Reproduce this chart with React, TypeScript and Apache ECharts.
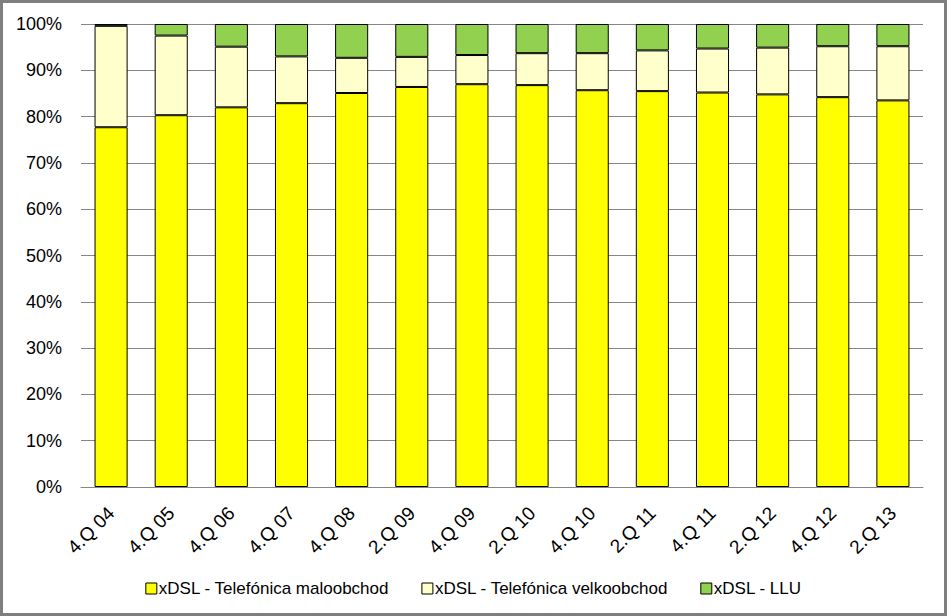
import React, { useEffect, useRef } from "react";
import * as echarts from "echarts";

const categories = ["4.Q 04", "4.Q 05", "4.Q 06", "4.Q 07", "4.Q 08", "2.Q 09", "4.Q 09", "2.Q 10", "4.Q 10", "2.Q 11", "4.Q 11", "2.Q 12", "4.Q 12", "2.Q 13"];
const retail = [77.7, 80.3, 82.0, 82.9, 85.1, 86.4, 87.0, 86.8, 85.7, 85.5, 85.2, 84.8, 84.2, 83.5];
const cumulativeWholesaleTop = [99.6, 97.5, 95.1, 93.0, 92.7, 92.9, 93.3, 93.7, 93.7, 94.3, 94.7, 94.9, 95.2, 95.2];
const wholesale = cumulativeWholesaleTop.map((t, i) => +(t - retail[i]).toFixed(1));
const llu = cumulativeWholesaleTop.map((t) => +(100 - t).toFixed(1));
const seriesNames = ["xDSL - Telefónica maloobchod", "xDSL - Telefónica velkoobchod", "xDSL - LLU"];
const yTicks = [0, 10, 20, 30, 40, 50, 60, 70, 80, 90, 100];

export default function App() {
  const ref = useRef<HTMLDivElement>(null);
  useEffect(() => {
    const chart = echarts.init(ref.current!, undefined, { renderer: "svg" });
    const font = "Liberation Sans, Arial, sans-serif";
    const mk = (name: string, data: number[], color: string) => ({
      name,
      type: "bar",
      stack: "s",
      data,
      barWidth: "55%",
      itemStyle: { color, borderColor: "#000", borderWidth: 1 },
    });
    chart.setOption({
      animation: false,
      backgroundColor: "#fff",
      grid: { left: 81, right: 24, top: 24, bottom: 129, containLabel: false },
      legend: {
        top: 575,
        left: "center",
        itemWidth: 11,
        itemHeight: 11,
        itemGap: 32,
        icon: "rect",
        textStyle: { fontFamily: font, fontSize: 17, color: "#000", padding: [0, 0, 0, -3] },
        itemStyle: { borderColor: "#000", borderWidth: 1 },
        data: seriesNames,
      },
      xAxis: {
        type: "category",
        data: categories,
        axisLine: { lineStyle: { color: "#868686", width: 1 } },
        axisTick: { show: false },
        axisLabel: { rotate: 45, fontFamily: font, fontSize: 19, color: "#000", margin: 23, interval: 0 },
      },
      yAxis: {
        type: "value",
        min: 0,
        max: 100,
        interval: 10,
        axisLine: { show: false },
        axisTick: { show: false },
        splitLine: { lineStyle: { color: "#868686", width: 1 } },
        axisLabel: {
          fontFamily: font,
          fontSize: 18,
          color: "#000",
          margin: 19,
          formatter: (v: number) => (yTicks.includes(v) ? v + "%" : ""),
        },
      },
      series: [
        mk(seriesNames[0], retail, "#FFFF00"),
        mk(seriesNames[1], wholesale, "#FFFFCC"),
        mk(seriesNames[2], llu, "#92D050"),
      ],
    });
    return () => chart.dispose();
  }, []);
  return (
    <div style={{ position: "fixed", left: 0, top: 0, width: 947, height: 616, background: "#fff" }}>
      <div ref={ref} style={{ width: 947, height: 616 }} />
      <div
        style={{
          position: "absolute",
          left: 0,
          top: 0,
          width: 947,
          height: 616,
          boxSizing: "border-box",
          border: "3px solid #7f7f7f",
          pointerEvents: "none",
        }}
      />
    </div>
  );
}
